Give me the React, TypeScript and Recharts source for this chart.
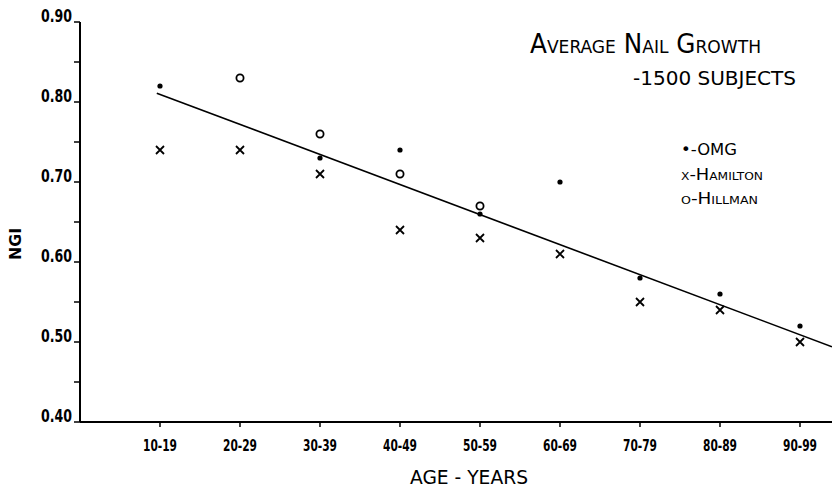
import { ScatterChart, Scatter, XAxis, YAxis } from 'recharts';

const ageGroups = ['10-19', '20-29', '30-39', '40-49', '50-59', '60-69', '70-79', '80-89', '90-99'];
const omgValues = [0.82, null, 0.73, 0.74, 0.66, 0.7, 0.58, 0.56, 0.52];
const hamiltonValues = [0.74, 0.74, 0.71, 0.64, 0.63, 0.61, 0.55, 0.54, 0.5];
const hillmanValues = [null, 0.83, 0.76, 0.71, 0.67];
const trendX = [0.96, 9.4];
const trendY = [0.811, 0.494];
const yTicks = [0.4, 0.45, 0.5, 0.55, 0.6, 0.65, 0.7, 0.75, 0.8, 0.85, 0.9];

const toPoints = (values: (number | null)[]) =>
  values
    .map((v, i) => ({ x: i + 1, y: v }))
    .filter((p) => p.y !== null);

const omg = toPoints(omgValues);
const hamilton = toPoints(hamiltonValues);
const hillman = toPoints(hillmanValues);
const trend = trendX.map((x, i) => ({ x, y: trendY[i] }));

const handFont = 'DejaVu Sans Condensed';

// hand-lettered tick labels, squeezed like the original
const XTick = (props: any) => {
  const { x, y, payload } = props;
  return (
    <text
      x={x}
      y={y + 22}
      textAnchor="middle"
      fontFamily={handFont}
      fontWeight="bold"
      fontSize={16}
      fill="#000"
      textLength={34}
      lengthAdjust="spacingAndGlyphs"
    >
      {ageGroups[payload.value - 1]}
    </text>
  );
};

const YTick = (props: any) => {
  const { x, y, payload } = props;
  const major = Math.round(payload.value * 100) % 10 === 0;
  if (!major) return <g />;
  return (
    <text
      x={x - 31}
      y={y}
      fontFamily={handFont}
      fontWeight="bold"
      fontSize={17}
      fill="#000"
      textLength={31}
      lengthAdjust="spacingAndGlyphs"
    >
      {payload.value.toFixed(2)}
    </text>
  );
};

const Dot = (props: any) => <circle cx={props.cx} cy={props.cy} r={2.6} fill="#000" />;
const Cross = (props: any) => {
  const { cx, cy } = props;
  return (
    <path
      d={`M${cx - 4},${cy - 4}L${cx + 4},${cy + 4}M${cx + 4},${cy - 4}L${cx - 4},${cy + 4}`}
      stroke="#000"
      strokeWidth={1.8}
    />
  );
};
const Ring = (props: any) => (
  <circle cx={props.cx} cy={props.cy} r={3.6} fill="none" stroke="#000" strokeWidth={1.8} />
);
const NoMark = () => <g />;

function App() {
  return (
    <div style={{ position: 'relative', width: 832, height: 489, background: '#fff' }}>
      <style>{'body{margin:0}'}</style>
      <ScatterChart width={832} height={489} margin={{ top: 22, right: 0, bottom: 0, left: 0 }}>
        <XAxis
          type="number"
          dataKey="x"
          domain={[0, 9.4]}
          ticks={[1, 2, 3, 4, 5, 6, 7, 8, 9]}
          allowDataOverflow
          height={67}
          axisLine={{ stroke: '#000', strokeWidth: 2 }}
          tickLine={{ stroke: '#000', strokeWidth: 1.5 }}
          tickSize={5}
          tick={XTick}
        />
        <YAxis
          type="number"
          dataKey="y"
          domain={[0.4, 0.9]}
          ticks={yTicks}
          allowDataOverflow
          width={80}
          axisLine={{ stroke: '#000', strokeWidth: 2 }}
          tickLine={{ stroke: '#000', strokeWidth: 1.5 }}
          tickSize={6}
          tick={YTick}
        />
        <Scatter data={trend} line={{ stroke: '#000', strokeWidth: 1.6 }} shape={NoMark} isAnimationActive={false} />
        <Scatter data={omg} shape={Dot} isAnimationActive={false} />
        <Scatter data={hamilton} shape={Cross} isAnimationActive={false} />
        <Scatter data={hillman} shape={Ring} isAnimationActive={false} />
      </ScatterChart>
      <svg
        width={832}
        height={489}
        style={{ position: 'absolute', left: 0, top: 0, pointerEvents: 'none' }}
      >
        <text
          x={530}
          y={53}
          fontFamily={handFont}
          fontSize={26}
          style={{ fontVariant: 'small-caps' }}
          textLength={231}
          lengthAdjust="spacingAndGlyphs"
        >
          Average Nail Growth
        </text>
        <text x={633} y={85} fontFamily={handFont} fontSize={20} textLength={163} lengthAdjust="spacingAndGlyphs">
          -1500 SUBJECTS
        </text>
        <g fontFamily={handFont} fontSize={16} style={{ fontVariant: 'small-caps' }}>
          <text x={681} y={155} textLength={56} lengthAdjust="spacingAndGlyphs">•-OMG</text>
          <text x={681} y={180} textLength={82} lengthAdjust="spacingAndGlyphs">x-Hamilton</text>
          <text x={681} y={204} textLength={77} lengthAdjust="spacingAndGlyphs">o-Hillman</text>
        </g>
        <text
          x={21}
          y={244}
          transform="rotate(-90 21 244)"
          textAnchor="middle"
          fontFamily={handFont}
          fontWeight="bold"
          fontSize={15}
          textLength={32}
          lengthAdjust="spacingAndGlyphs"
        >
          NGI
        </text>
        <text
          x={469}
          y={484}
          textAnchor="middle"
          fontFamily={handFont}
          fontSize={19}
          textLength={118}
          lengthAdjust="spacingAndGlyphs"
        >
          AGE - YEARS
        </text>
      </svg>
    </div>
  );
}

export default App;
